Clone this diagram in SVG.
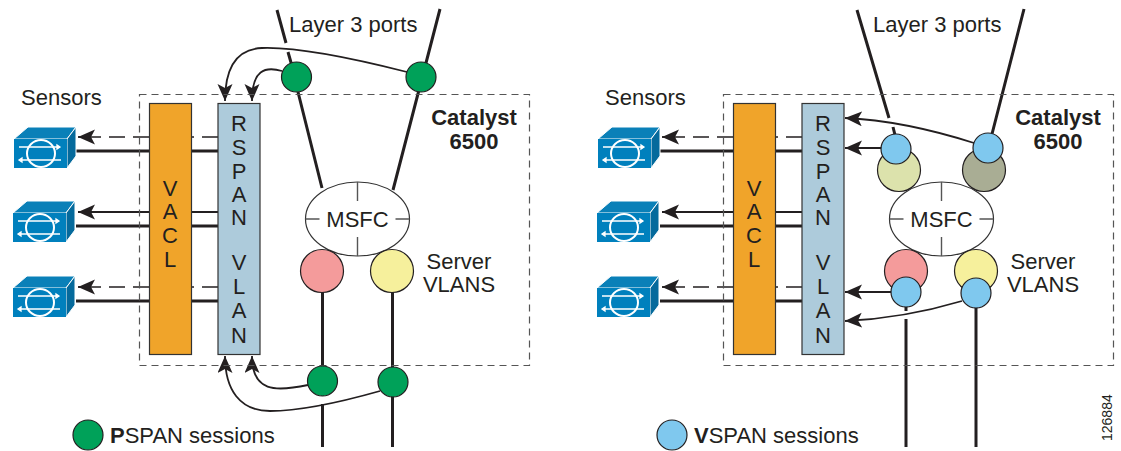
<svg xmlns="http://www.w3.org/2000/svg" width="1121" height="451" viewBox="0 0 1121 451">
<style>
text{font-family:"Liberation Sans",Arial,sans-serif;font-size:22px;fill:#231f20}
.m{text-anchor:middle}
.b{font-weight:bold}
.box{fill:none;stroke:#555;stroke-width:1.2;stroke-dasharray:7 5}
.bar{stroke:#333;stroke-width:1.2}
.th{fill:none;stroke:#231f20;stroke-width:3}
.tn{fill:none;stroke:#231f20;stroke-width:1.8}
.ar{fill:none;stroke:#231f20;stroke-width:1.8;marker-end:url(#a)}
.da{fill:none;stroke:#231f20;stroke-width:1.6;stroke-dasharray:16 8}
.c{stroke:#231f20;stroke-width:1.2}
.tick{fill:none;stroke:#555;stroke-width:1.4}
</style>
<defs>
<marker id="a" markerUnits="userSpaceOnUse" markerWidth="20" markerHeight="18" refX="17" refY="7.5" orient="auto"><path d="M0 0 L17 7.5 L0 15 L4 7.5Z" fill="#231f20"/></marker>
<g id="s">
<path d="M0 12 L14 0 H62 L53 12Z" fill="#0a80b8" stroke="#fff" stroke-width="1"/>
<path d="M53 12 L62 0 V29 L53 41Z" fill="#056a9c" stroke="#fff" stroke-width="1"/>
<rect x="0" y="12" width="53" height="29" fill="#0080bd"/>
<ellipse cx="27" cy="26.500" rx="14" ry="13.500" fill="none" stroke="#fff" stroke-width="2"/>
<path d="M5 20 H46 M46 20 l-3 -2 v4Z M7 33 H47 M5 33 l3 -2 v4Z" fill="#fff" stroke="#fff" stroke-width="1.300"/>
</g>
<g id="msfc">
<ellipse cx="0" cy="0" rx="52" ry="37" fill="#fff" stroke="#333" stroke-width="1.200"/>
<path class="tick" d="M0 -37 V-18 M0 18 V37 M-52 0 H-38 M38 0 H52"/>
</g>
</defs>

<g id="connectors">
<path class="th" d="M277 10 L286 43 M288 52 L292 66 M298 92 L322 188 M440 9 L393 190"/>
<path class="th" d="M322.500 290 V396 M322.500 404 V447 M392.500 290 V447"/>
<path class="ar" d="M407 72 C340 55 290 47 262 48 C235 49 225 70 225 101"/>
<path class="ar" d="M282 71 C265 66 252 70 252 101"/>
<path class="ar" d="M308 385 C275 392 252 392 252 356"/>
<path class="ar" d="M380 391 C320 408 290 411 270 411 C240 411 225 390 225 356"/>
<path class="da" d="M218 137 H192 M149 137 H80"/><path class="tn" d="M90 137 H78" marker-end="url(#a)"/>
<path class="tn" d="M218 212 H78" marker-end="url(#a)"/>
<path class="da" d="M218 287 H192 M149 287 H80"/><path class="tn" d="M90 287 H78" marker-end="url(#a)"/>
<path class="th" d="M76 151 H218 M76 226 H218 M76 301 H218"/>

<path class="th" d="M857 10 L889 118 M893 127 L895 135 M1024 9 L992 134"/>
<path class="th" d="M906 306 V311 M906 319 V447 M976 306 V447"/>
<path class="ar" d="M974 143 C930 129 890 120 845 118"/>
<path class="ar" d="M882 148 H845"/>
<path class="ar" d="M892 292 H845"/>
<path class="ar" d="M962 301 C925 312 890 319 845 321"/>
<path class="da" d="M802 137 H776 M733 137 H664"/><path class="tn" d="M674 137 H662" marker-end="url(#a)"/>
<path class="tn" d="M802 212 H662" marker-end="url(#a)"/>
<path class="da" d="M802 287 H776 M733 287 H664"/><path class="tn" d="M674 287 H662" marker-end="url(#a)"/>
<path class="th" d="M660 151 H802 M660 226 H802 M660 301 H802"/>
</g>

<rect id="boxL" class="box" x="139.500" y="94.500" width="390" height="271"/>
<rect id="boxR" class="box" x="723.500" y="94.500" width="390" height="271"/>

<g id="vaclL"><rect class="bar" x="149.500" y="103.500" width="42" height="251" fill="#f0a42a"/><text class="m" x="170" y="196">V</text><text class="m" x="170" y="219">A</text><text class="m" x="170" y="243">C</text><text class="m" x="170" y="267">L</text></g>
<g id="rspanL"><rect class="bar" x="218" y="103.500" width="42" height="251" fill="#adcbdb"/><text class="m" x="239" y="131">R</text><text class="m" x="239" y="155">S</text><text class="m" x="239" y="179">P</text><text class="m" x="239" y="202">A</text><text class="m" x="239" y="225">N</text><text class="m" x="239" y="270">V</text><text class="m" x="239" y="294">L</text><text class="m" x="239" y="318">A</text><text class="m" x="239" y="343">N</text></g>
<g id="vaclR"><rect class="bar" x="733.500" y="103.500" width="42" height="251" fill="#f0a42a"/><text class="m" x="754" y="196">V</text><text class="m" x="754" y="219">A</text><text class="m" x="754" y="243">C</text><text class="m" x="754" y="267">L</text></g>
<g id="rspanR"><rect class="bar" x="802" y="103.500" width="42" height="251" fill="#adcbdb"/><text class="m" x="823" y="131">R</text><text class="m" x="823" y="155">S</text><text class="m" x="823" y="179">P</text><text class="m" x="823" y="202">A</text><text class="m" x="823" y="225">N</text><text class="m" x="823" y="270">V</text><text class="m" x="823" y="294">L</text><text class="m" x="823" y="318">A</text><text class="m" x="823" y="343">N</text></g>

<g id="sensorL1"><use href="#s" x="14" y="127"/></g>
<g id="sensorL2"><use href="#s" x="13" y="201"/></g>
<g id="sensorL3"><use href="#s" x="13" y="276"/></g>
<g id="sensorR1"><use href="#s" x="598" y="127"/></g>
<g id="sensorR2"><use href="#s" x="597" y="201"/></g>
<g id="sensorR3"><use href="#s" x="597" y="276"/></g>

<g id="msfcL"><use href="#msfc" x="357.500" y="219"/><text class="m" x="357.500" y="227">MSFC</text></g>
<g id="pinkL"><circle class="c" cx="322" cy="271" r="21.500" fill="#f49b9b"/></g>
<g id="yellowL"><circle class="c" cx="392" cy="271" r="21.500" fill="#f6f09c"/></g>
<g id="g1"><circle class="c" cx="296.500" cy="77" r="15" fill="#00a159"/></g>
<g id="g2"><circle class="c" cx="421" cy="77" r="15" fill="#00a159"/></g>
<g id="g3"><circle class="c" cx="322.500" cy="381" r="15" fill="#00a159"/></g>
<g id="g4"><circle class="c" cx="393" cy="382" r="15" fill="#00a159"/></g>
<g id="legendL"><circle class="c" cx="88" cy="435" r="15" fill="#00a159"/><text x="110" y="443"><tspan class="b">P</tspan>SPAN sessions</text></g>

<g id="msfcR"><circle class="c" cx="899" cy="170" r="21.500" fill="#dce2ac"/><circle class="c" cx="984" cy="170" r="21.500" fill="#a9ad94"/><use href="#msfc" x="941.500" y="219"/><text class="m" x="941.500" y="227">MSFC</text></g>
<g id="pinkR"><circle class="c" cx="906" cy="271" r="21.500" fill="#f49b9b"/></g>
<g id="yellowR"><circle class="c" cx="976" cy="271" r="21.500" fill="#f6f09c"/></g>
<g id="b1"><circle class="c" cx="896" cy="149" r="15" fill="#7fc8ee"/></g>
<g id="b2"><circle class="c" cx="988" cy="148" r="15" fill="#7fc8ee"/></g>
<g id="b3"><circle class="c" cx="906" cy="292" r="15" fill="#7fc8ee"/></g>
<g id="b4"><circle class="c" cx="976" cy="293" r="15" fill="#7fc8ee"/></g>
<g id="legendR"><circle class="c" cx="672" cy="435" r="15" fill="#7fc8ee"/><text x="694" y="443"><tspan class="b">V</tspan>SPAN sessions</text></g>

<g id="labels">
<text x="289" y="32">Layer 3 ports</text>
<text x="873" y="32">Layer 3 ports</text>
<text x="21" y="105">Sensors</text>
<text x="605" y="105">Sensors</text>
<text class="m b" x="474" y="125">Catalyst</text>
<text class="m b" x="474" y="149">6500</text>
<text class="m b" x="1058" y="125">Catalyst</text>
<text class="m b" x="1058" y="149">6500</text>
<text class="m" x="459" y="269">Server</text>
<text class="m" x="459" y="292">VLANS</text>
<text class="m" x="1043" y="269">Server</text>
<text class="m" x="1043" y="292">VLANS</text>
<text transform="translate(1112 441) rotate(-90)" style="font-size:14px">126884</text>
</g>
</svg>
